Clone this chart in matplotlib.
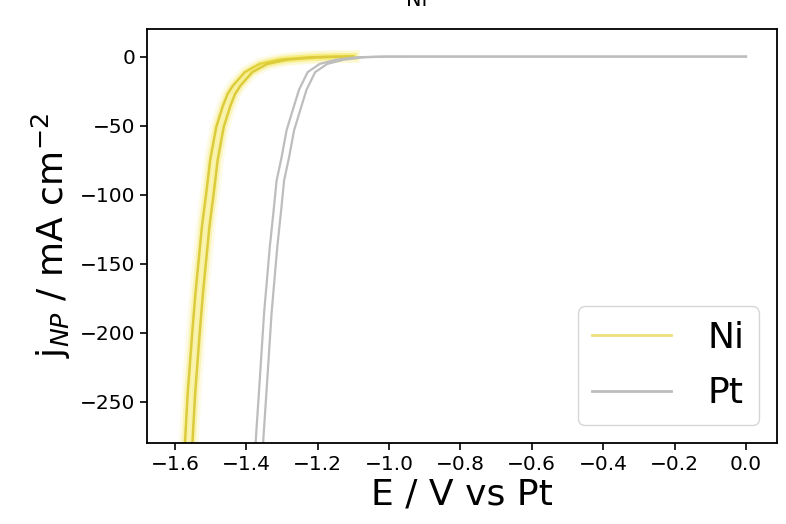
import matplotlib
matplotlib.use("Agg")
import matplotlib.pyplot as plt

# Ni LSV, two scan branches (E in V vs Pt, j in mA cm^-2)
ni_fwd_E = [-1.575, -1.571, -1.564, -1.557, -1.550, -1.542, -1.533, -1.524, -1.512, -1.501,
            -1.484, -1.465, -1.452, -1.437, -1.404, -1.362, -1.306, -1.222, -1.150, -1.100]
ni_rev_E = [-1.554, -1.550, -1.543, -1.536, -1.529, -1.521, -1.512, -1.503, -1.491, -1.480,
            -1.463, -1.444, -1.431, -1.416, -1.383, -1.341, -1.285, -1.201, -1.129, -1.100]
ni_j = [-295, -277, -244, -220, -196, -171, -147, -123, -99, -75,
        -51, -35.4, -27, -21, -11.3, -5.3, -2.2, -0.5, -0.05, 0.0]

# Pt LSV, two scan branches
pt_fwd_E = [-1.377, -1.373, -1.362, -1.350, -1.334, -1.323, -1.315, -1.301, -1.287,
            -1.270, -1.252, -1.228, -1.194, -1.147, -1.091, -1.030, -0.950, 0.0]
pt_rev_E = [-1.356, -1.352, -1.341, -1.329, -1.313, -1.302, -1.294, -1.280, -1.266,
            -1.249, -1.231, -1.207, -1.173, -1.126, -1.070, -1.009, -0.929, 0.0]
pt_j = [-295, -277, -234, -186, -138, -111, -90, -73, -53.5,
        -39, -24, -11.3, -5.3, -2.2, -0.5, -0.05, 0.0, 0.0]

NI_GLOW = "#f4e640"
NI_CORE = "#dccb3c"
PT_COL = "#bdbdbd"

fig = plt.figure(figsize=(7.86, 5.24), dpi=100)
ax = fig.add_axes([0.187, 0.1546, 0.8016, 0.7901])

for E in (ni_fwd_E, ni_rev_E):
    ax.plot(E, ni_j, color=NI_GLOW, lw=9, alpha=0.12, solid_joinstyle="round")
    ax.plot(E, ni_j, color=NI_GLOW, lw=5, alpha=0.3, solid_joinstyle="round")
    ax.plot(E, ni_j, color=NI_CORE, lw=1.8, solid_joinstyle="round")
for E in (pt_fwd_E, pt_rev_E):
    ax.plot(E, pt_j, color=PT_COL, lw=1.6, solid_joinstyle="round")

h_ni, = ax.plot([], [], color="#ece07a", lw=2.0, label="Ni")
h_pt, = ax.plot([], [], color=PT_COL, lw=2.0, label="Pt")

ax.set_xlim(-1.678, 0.087)
ax.set_ylim(-280, 20)
ax.set_xticks([-1.6, -1.4, -1.2, -1.0, -0.8, -0.6, -0.4, -0.2, 0.0])
ax.set_yticks([0, -50, -100, -150, -200, -250])
ax.tick_params(labelsize=14.5, width=1.2, length=5)
for s in ax.spines.values():
    s.set_linewidth(1.3)

ax.set_xlabel("E / V vs Pt", fontsize=26, labelpad=3)
ax.set_ylabel(r"j$_{NP}$ / mA cm$^{-2}$", fontsize=26, labelpad=5)
ax.legend(handles=[h_ni, h_pt], loc="lower right", fontsize=26,
          handlelength=2.2, handletextpad=1.0, labelspacing=0.6,
          borderaxespad=0.5, framealpha=0.8)

fig.text(0.53, 1.0, "Ni", ha="center", va="center", fontsize=15)

fig.savefig("out.png", dpi=100)
